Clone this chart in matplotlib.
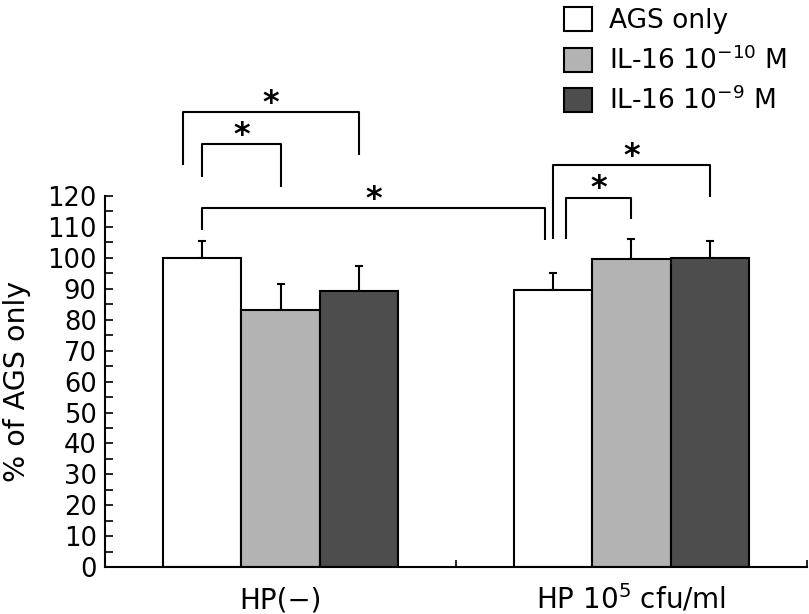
import matplotlib.pyplot as plt
import numpy as np
from matplotlib.patches import Patch

# data
groups = ["HP(\u2212)", "HP 10$^{5}$ cfu/ml"]
series = ["AGS only", "IL-16 10$^{\u221210}$ M", "IL-16 10$^{\u22129}$ M"]
colors = ["white", "#b3b3b3", "#4d4d4d"]
means = [[100.0, 89.6],
         [83.3, 99.5],
         [89.3, 100.0]]
errs = [[5.6, 5.6],
        [8.3, 6.5],
        [8.2, 5.6]]

fig = plt.figure(figsize=(8.09, 6.14), dpi=100)
ax = fig.add_axes([0.1298, 0.0762, 0.8677, 0.6046])

w = 0.2236
centers = np.array([0.5, 1.5])
xpos = []
for i in range(3):
    x = centers + (i - 1) * w
    xpos.append(x)
    ax.bar(x, means[i], w, color=colors[i], edgecolor="black", linewidth=1.5, zorder=2)
    ax.errorbar(x, means[i], yerr=[np.zeros(2), errs[i]], fmt="none", ecolor="black",
                elinewidth=1.5, capsize=3, capthick=1.5, zorder=1)

ax.set_xlim(0, 2)
ax.set_ylim(0, 120)
ax.set_yticks(np.arange(0, 121, 10))
ax.set_yticks(np.arange(5, 120, 10), minor=True)
ax.set_xticks([1, 2])
ax.set_xticklabels([])
ax.tick_params(axis="y", direction="in", length=6, width=1.2, labelsize=18.5, pad=6)
ax.tick_params(axis="y", which="minor", direction="in", length=6, width=1.2)
ax.tick_params(axis="x", direction="in", length=5, width=1.2)
for s in ["top", "right"]:
    ax.spines[s].set_visible(False)
for s in ["left", "bottom"]:
    ax.spines[s].set_linewidth(1.5)
ax.set_ylabel("% of AGS only", fontsize=20.5, labelpad=12)
for c, g in zip(centers, groups):
    ax.text(c, -13.5, g, ha="center", va="baseline", fontsize=20)


# significance brackets: x1, x2, y top, left leg bottom, right leg bottom
def bracket(x1, x2, top, b1, b2):
    ax.plot([x1, x1, x2, x2], [b1, top, top, b2], color="black", lw=1.5,
            clip_on=False, solid_capstyle="butt")
    ax.text((x1 + x2) / 2, top - 2.2, "*", ha="center", va="bottom", fontsize=23,
            fontweight="bold", clip_on=False)


bracket(xpos[0][0] - 0.055, xpos[2][0], 147.1, 129.9, 133.3)
bracket(xpos[0][0], xpos[1][0], 136.8, 126.2, 123.0)
bracket(xpos[0][0], xpos[0][1] - 0.024, 116.1, 109.0, 105.8)
bracket(xpos[0][1], xpos[2][1], 129.9, 106.0, 119.6)
bracket(xpos[0][1] + 0.036, xpos[1][1], 119.5, 106.0, 112.7)

handles = [Patch(facecolor=c, edgecolor="black", linewidth=1.5) for c in colors]
fig.legend(handles, series, loc="upper left", bbox_to_anchor=(0.684, 1.005), frameon=False,
           fontsize=19, handlelength=1.07, handleheight=1.02, labelspacing=0.45,
           handletextpad=0.62, borderaxespad=0)

fig.savefig("out.png", dpi=100)
